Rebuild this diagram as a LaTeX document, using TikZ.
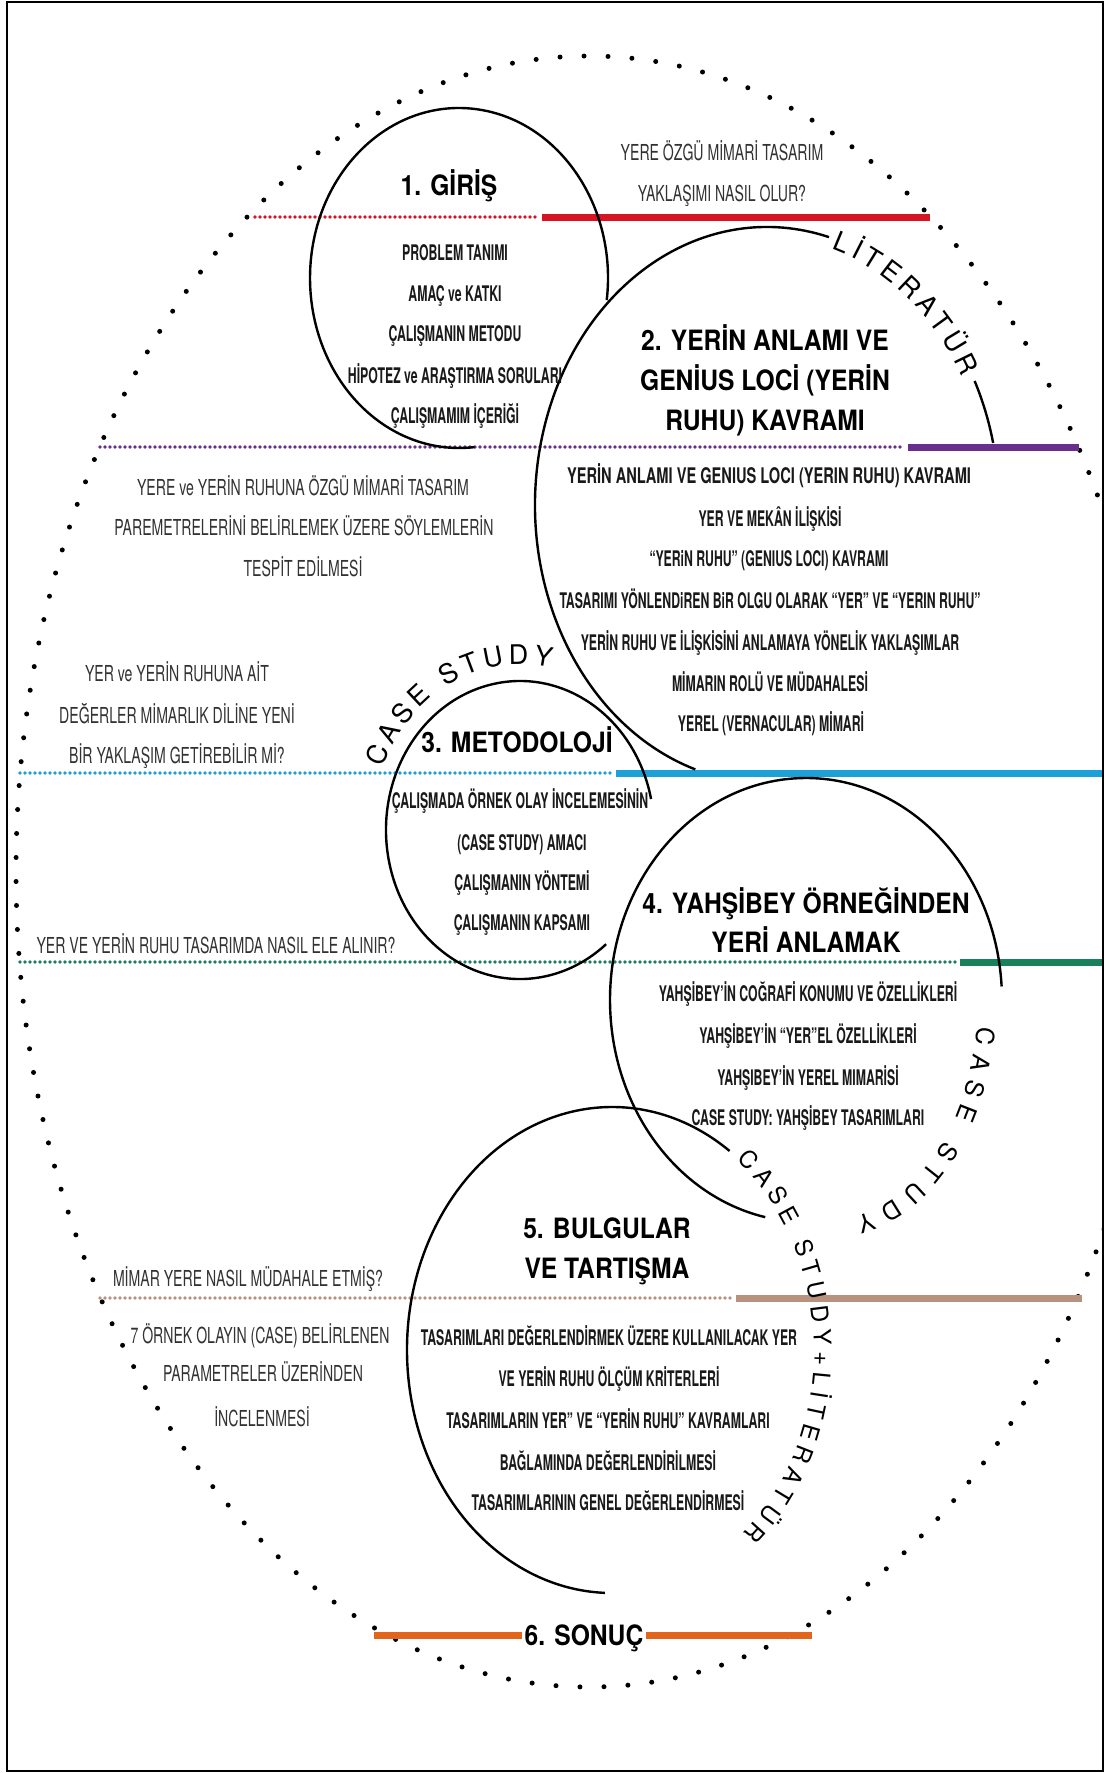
\documentclass[tikz,border=0pt]{standalone}
\usepackage{fontspec}
\setmainfont{TeX Gyre Heros}
\newfontfamily\headfont[FakeStretch=0.88]{TeX Gyre Heros}
\newfontfamily\itemfont[FakeStretch=0.57]{TeX Gyre Heros}
\newfontfamily\itemwfont[FakeStretch=0.68]{TeX Gyre Heros}
\newfontfamily\qfont[FakeStretch=0.64]{TeX Gyre Heros}
\newfontfamily\arcfont{TeX Gyre Heros}
\usetikzlibrary{decorations.text}

\definecolor{cred}{RGB}{215,20,35}
\definecolor{cpurple}{RGB}{106,46,140}
\definecolor{cblue}{RGB}{29,159,216}
\definecolor{cgreen}{RGB}{24,128,90}
\definecolor{cbrown}{RGB}{185,146,127}
\definecolor{corange}{RGB}{227,101,29}
\definecolor{qgray}{RGB}{50,50,50}
\definecolor{itemblack}{RGB}{25,25,25}

\tikzset{
  heading/.style={font=\headfont\bfseries\fontsize{28}{34}\selectfont, text=black, inner sep=0pt, anchor=base},
  item/.style={font=\itemfont\bfseries\fontsize{21.5}{24}\selectfont, text=itemblack, inner sep=0pt, anchor=base},
  itemw/.style={font=\itemwfont\bfseries\fontsize{21.5}{24}\selectfont, text=itemblack, inner sep=0pt, anchor=base},
  question/.style={font=\qfont\fontsize{22}{24}\selectfont, text=qgray, inner sep=0pt, anchor=base},
  ring/.style={line width=2.4pt, draw=black},
  dotline/.style={line width=3.6pt, line cap=round, dash pattern=on 0pt off 5pt},
  solidline/.style={line width=7pt},
  bigdots/.style={line width=5pt, line cap=round, dash pattern=on 0pt off 24pt, draw=black},
}

\begin{document}
\begin{tikzpicture}[x=1pt,y=-1pt]
\useasboundingbox (0,0) rectangle (1107,1773);
\fill[white] (0,0) rectangle (1107,1773);

\coordinate (c1) at (459,278);
\coordinate (c2) at (767,505);
\coordinate (c3) at (520,830);
\coordinate (c4) at (806,1000);
\coordinate (c4t) at (830,1000);
\coordinate (c5) at (612,1350);
\coordinate (co) at (589,871.5);

% big dotted ellipse
\begin{scope}
\clip (8,3) rectangle (1102,1770);
\draw[bigdots] (co) ellipse [x radius=573pt, y radius=815.5pt];
\end{scope}

% coloured lines
\draw[dotline, cred] (255,217) -- (539,217);
\draw[solidline, cred] (542,217) -- (930,217);
\draw[dotline, cpurple] (100,447) -- (904,447);
\draw[solidline, cpurple] (908,447) -- (1079,447);
\draw[dotline, cblue] (20,773) -- (612,773);
\draw[solidline, cblue] (616,773) -- (1103,773);
\draw[dotline, cgreen] (20,962) -- (957,962);
\draw[solidline, cgreen] (960,962) -- (1103,962);
\draw[dotline, cbrown] (100,1298) -- (733,1298);
\draw[solidline, cbrown] (736,1298) -- (1082,1298);
\draw[solidline, corange] (374,1635) -- (522,1635);
\draw[solidline, corange] (646,1635) -- (812,1635);

% circles
\draw[ring] (c1) ++(-7.5:149pt and 170pt) arc[start angle=-7.5, end angle=276, x radius=149pt, y radius=170pt];
\draw[ring] (c2) ++(12.9:232pt and 278pt) arc[start angle=12.9, end angle=26.5, x radius=232pt, y radius=278pt];
\draw[ring] (c2) ++(74.5:232pt and 278pt) arc[start angle=74.5, end angle=252, x radius=232pt, y radius=278pt];
\draw[ring] (c3) ++(12:134pt and 149pt) arc[start angle=12, end angle=310, x radius=134pt, y radius=149pt];
\draw[ring] (c4) ++(3.5:196pt and 222pt) arc[start angle=3.5, end angle=258, x radius=196pt, y radius=222pt];
\draw[ring] (c5) ++(55:205pt and 243pt) arc[start angle=55, end angle=268, x radius=205pt, y radius=243pt];

% texts along arcs
\path[decorate, decoration={text along path, text={|\arcfont\fontsize{27}{30}\selectfont|LİTERATÜR}, text align=fit to path}]
  (c2) ++(73:222pt and 268pt) arc[start angle=73, end angle=28.5, x radius=222pt, y radius=268pt];
\path[decorate, decoration={text along path, text={|\arcfont\fontsize{27}{30}\selectfont|CASE STUDY}, text align=fit to path}]
  (c3) ++(158:148pt and 166pt) arc[start angle=158, end angle=78, x radius=148pt, y radius=166pt];
\path[decorate, decoration={text along path, text={|\arcfont\fontsize{25}{28}\selectfont|CASE STUDY}, text align=fit to path}]
  (c4t) ++(-7:148pt and 220pt) arc[start angle=-7, end angle=-80, x radius=148pt, y radius=220pt];
\path[decorate, decoration={text along path, text={|\arcfont\fontsize{24}{27}\selectfont|CASE STUDY+LİTERATÜR}, text align=fit to path}]
  (c5) ++(52:202pt and 241pt) arc[start angle=52, end angle=-49.5, x radius=202pt, y radius=241pt];

% questions
\node[question] (qa1) at (722,160) {YERE ÖZGÜ MİMARİ TASARIM};
\node[question] (qa2) at (722,201) {YAKLAŞIMI NASIL OLUR?};
\node[question] (qb1) at (303,495) {YERE ve YERİN RUHUNA ÖZGÜ MİMARİ TASARIM};
\node[question] (qb2) at (304,535) {PAREMETRELERİNİ BELİRLEMEK ÜZERE SÖYLEMLERİN};
\node[question] (qb3) at (303,576) {TESPİT EDİLMESİ};
\node[question] (qc1) at (177,681) {YER ve YERİN RUHUNA AİT};
\node[question] (qc2) at (177,723) {DEĞERLER MİMARLIK DİLİNE YENİ};
\node[question] (qc3) at (177,763) {BİR YAKLAŞIM GETİREBİLİR Mİ?};
\node[question] (qd1) at (216,953) {YER VE YERİN RUHU TASARIMDA NASIL ELE ALINIR?};
\node[question] (qe1) at (248,1286) {MİMAR YERE NASIL MÜDAHALE ETMİŞ?};
\node[question] (qf1) at (260,1343) {7 ÖRNEK OLAYIN (CASE) BELİRLENEN};
\node[question] (qf2) at (263,1381) {PARAMETRELER ÜZERİNDEN};
\node[question] (qf3) at (262,1426) {İNCELENMESİ};

% circle 1
\node[heading] (h1) at (449,195) {1. GİRİŞ};
\node[item] (i1a) at (455,260) {PROBLEM TANIMI};
\node[item] (i1b) at (455,301) {AMAÇ ve KATKI};
\node[item] (i1c) at (455,341) {ÇALIŞMANIN METODU};
\node[item] (i1d) at (455,383) {HİPOTEZ ve ARAŞTIRMA SORULARI};
\node[item] (i1e) at (455,423) {ÇALIŞMAMIM İÇERİĞİ};

% circle 2
\node[heading] (h2a) at (765,350) {2. YERİN ANLAMI VE};
\node[heading] (h2b) at (765,390) {GENİUS LOCİ (YERİN};
\node[heading] (h2c) at (765,430) {RUHU) KAVRAMI};
\node[itemw] (i2a) at (769,483) {YERİN ANLAMI VE GENIUS LOCI (YERIN RUHU) KAVRAMI};
\node[item] (i2b) at (770,526) {YER VE MEKÂN İLİŞKİSİ};
\node[item] (i2c) at (769,566) {“YERiN RUHU” (GENIUS LOCI) KAVRAMI};
\node[item] (i2d) at (770,608) {TASARIMI YÖNLENDiREN BiR OLGU OLARAK “YER” VE “YERIN RUHU”};
\node[item] (i2e) at (770,650) {YERİN RUHU VE İLİŞKİSİNİ ANLAMAYA YÖNELİK YAKLAŞIMLAR};
\node[item] (i2f) at (770,691) {MİMARIN ROLÜ VE MÜDAHALESİ};
\node[item] (i2g) at (771,731) {YEREL (VERNACULAR) MİMARİ};

% circle 3
\node[heading] (h3) at (517,752) {3. METODOLOJİ};
\node[item] (i3a) at (520,808) {ÇALIŞMADA ÖRNEK OLAY İNCELEMESİNİN};
\node[item] (i3b) at (522,850) {(CASE STUDY) AMACI};
\node[item] (i3c) at (522,890) {ÇALIŞMANIN YÖNTEMİ};
\node[item] (i3d) at (522,930) {ÇALIŞMANIN KAPSAMI};

% circle 4
\node[heading] (h4a) at (806,913) {4. YAHŞİBEY ÖRNEĞİNDEN};
\node[heading] (h4b) at (806,952) {YERİ ANLAMAK};
\node[item] (i4a) at (808,1001) {YAHŞİBEY’İN COĞRAFİ KONUMU VE ÖZELLİKLERİ};
\node[item] (i4b) at (808,1043) {YAHŞİBEY’İN “YER”EL ÖZELLİKLERİ};
\node[item] (i4c) at (808,1085) {YAHŞIBEY’İN YEREL MIMARİSİ};
\node[item] (i4d) at (808,1125) {CASE STUDY: YAHŞİBEY TASARIMLARI};

% circle 5
\node[heading] (h5a) at (607,1238) {5. BULGULAR};
\node[heading] (h5b) at (607,1278) {VE TARTIŞMA};
\node[item] (i5a) at (609,1345) {TASARIMLARI DEĞERLENDİRMEK ÜZERE KULLANILACAK YER};
\node[item] (i5b) at (609,1386) {VE YERİN RUHU ÖLÇÜM KRİTERLERİ};
\node[item] (i5c) at (608,1428) {TASARIMLARIN YER” VE “YERİN RUHU” KAVRAMLARI};
\node[item] (i5d) at (608,1470) {BAĞLAMINDA DEĞERLENDİRİLMESİ};
\node[item] (i5e) at (608,1510) {TASARIMLARININ GENEL DEĞERLENDİRMESİ};

% conclusion
\node[heading] (h6) at (584,1645) {6. SONUÇ};

% frame
\draw[line width=2pt] (7,2) rectangle (1103,1771);
\end{tikzpicture}
\end{document}
